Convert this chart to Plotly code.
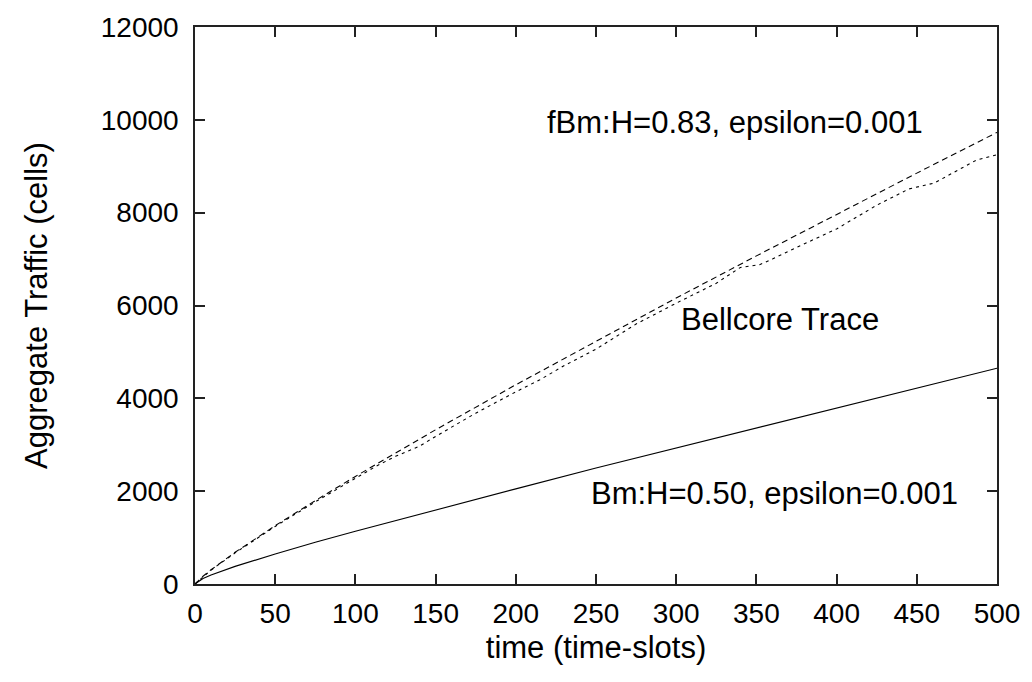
import plotly.graph_objects as go

# time (time-slots)
t_bm = [0, 5, 10, 25, 50, 75, 100, 150, 200, 250, 300, 350, 400, 450, 500]
bm_vals = [0, 120, 195, 380, 645, 900, 1135, 1600, 2050, 2500, 2930, 3370, 3800, 4225, 4650]

t_fbm = [0, 5, 10, 25, 50, 75, 100, 150, 200, 250, 300, 350, 400, 450, 500]
fbm_vals = [0, 168, 307, 683, 1256, 1797, 2318, 3323, 4292, 5235, 6161, 7069, 7967, 8852, 9730]

t_trace = [0, 10, 25, 50, 75, 100, 113, 125, 140, 150, 175, 200, 215, 230, 250, 275, 290,
           300, 325, 340, 352, 360, 375, 390, 400, 425, 445, 461, 475, 487, 500]
trace_vals = [0, 300, 670, 1240, 1770, 2270, 2540, 2750, 2970, 3180, 3680, 4140, 4400, 4700,
              5060, 5600, 5880, 6050, 6480, 6820, 6880, 7000, 7250, 7480, 7650, 8160, 8510,
              8640, 8900, 9130, 9250]

x_ticks = [0, 50, 100, 150, 200, 250, 300, 350, 400, 450, 500]
y_ticks = [0, 2000, 4000, 6000, 8000, 10000, 12000]

FONT = "Liberation Sans, Arial, Helvetica, sans-serif"
FS = 31
TICK_FS = 28

fig = go.Figure()
fig.add_trace(go.Scatter(x=t_bm, y=bm_vals, mode="lines",
                         line=dict(color="black", width=1.1), name="Bm"))
fig.add_trace(go.Scatter(x=t_fbm, y=fbm_vals, mode="lines",
                         line=dict(color="black", width=1.1, dash="6px,4px"), name="fBm"))
fig.add_trace(go.Scatter(x=t_trace, y=trace_vals, mode="lines",
                         line=dict(color="black", width=1.1, dash="3px,4px"), name="Bellcore"))

fig.add_annotation(x=455, y=9950, text="fBm:H=0.83, epsilon=0.001", showarrow=False,
                   xanchor="right", yanchor="middle", font=dict(family=FONT, size=FS, color="black"))
fig.add_annotation(x=301.5, y=5700, text="Bellcore Trace", showarrow=False,
                   xanchor="left", yanchor="middle", font=dict(family=FONT, size=FS, color="black"))
fig.add_annotation(x=477, y=1954, text="Bm:H=0.50, epsilon=0.001", showarrow=False,
                   xanchor="right", yanchor="middle", font=dict(family=FONT, size=FS, color="black"))

axis_common = dict(
    showgrid=False, zeroline=False, showline=True, linecolor="#222", linewidth=1.5,
    mirror="ticks", ticks="inside", ticklen=10, tickwidth=1.5, tickcolor="#222",
    tickfont=dict(family=FONT, size=TICK_FS, color="black"),
)

fig.update_xaxes(range=[0, 500], tickvals=x_ticks, ticktext=[str(v) for v in x_ticks],
                 ticklabelstandoff=4,
                 title=dict(text="time (time-slots)", font=dict(family=FONT, size=FS, color="black"),
                            standoff=8),
                 **axis_common)
fig.update_yaxes(range=[0, 12000], tickvals=y_ticks, ticktext=[str(v) for v in y_ticks],
                 ticklabelstandoff=9,
                 title=dict(text="Aggregate Traffic (cells)", font=dict(family=FONT, size=FS, color="black"),
                            standoff=44),
                 **axis_common)

fig.update_layout(
    width=1032, height=682,
    margin=dict(l=195, r=33, t=24, b=98),
    paper_bgcolor="white", plot_bgcolor="white",
    showlegend=False,
    font=dict(family=FONT, size=FS, color="black"),
)

fig.write_html("out.html")
